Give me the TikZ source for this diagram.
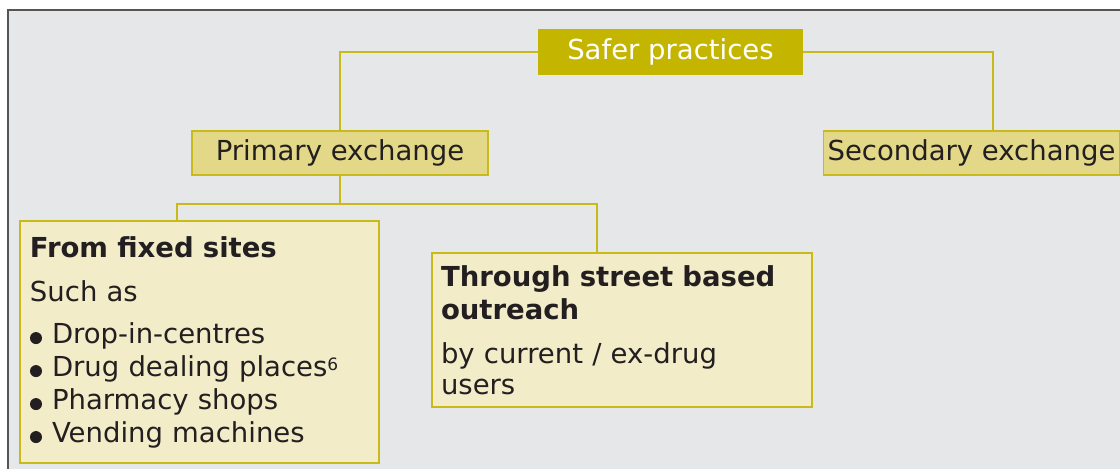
\documentclass[tikz,border=0pt]{standalone}
\usepackage{fontspec}
\setmainfont{DejaVu Sans}
\usepackage{tikz}

\definecolor{panel}{RGB}{230,231,233}
\definecolor{framegray}{RGB}{85,85,85}
\definecolor{olive}{RGB}{196,181,0}
\definecolor{midfill}{RGB}{226,216,136}
\definecolor{palefill}{RGB}{242,236,200}
\definecolor{edge}{RGB}{200,186,24}
\definecolor{ink}{RGB}{35,31,32}

\newcommand{\boxfont}{\fontsize{27.5}{33}\selectfont}
\newcommand{\dotitem}{\makebox[22pt][l]{\raisebox{-1pt}{\tikz\fill[ink] (0,0) circle (6pt);}}}
\newcommand{\footmark}[1]{\raisebox{6pt}{\fontsize{17}{17}\selectfont #1}}

\begin{document}
\begin{tikzpicture}[x=1pt,y=-1pt,
    root/.style={fill=olive,text=white,minimum width=265pt,minimum height=46pt,inner sep=0pt,font=\boxfont},
    branch/.style={fill=midfill,draw=edge,line width=1.5pt,text=ink,minimum width=296pt,minimum height=44pt,inner sep=0pt,font=\boxfont},
    leaf/.style={fill=palefill,draw=edge,line width=1.5pt,text=ink,align=left,font=\boxfont},
    link/.style={draw=edge,line width=1.5pt}]

\useasboundingbox (0,0) rectangle (1120,469);
\fill[panel] (8,10) rectangle (1120,469);
\draw[framegray,line width=2pt] (8,469) -- (8,10) -- (1120,10);

\node[root] (safer) at (670.5,52) {Safer practices};
\node[branch] (primary) at (340,153) {Primary exchange};
\node[branch] (secondary) at (971.5,153) {Secondary exchange};

\node[leaf,text width=339pt,inner xsep=10pt,minimum height=242pt] (fixed) at (199.5,342)
  {\textbf{From fixed sites}\\[11pt]
   Such as\\[9pt]
   \dotitem Drop-in-centres\\
   \dotitem Drug dealing places\footmark{6}\\
   \dotitem Pharmacy shops\\
   \dotitem Vending machines};
\node[leaf,text width=362pt,inner xsep=9pt,minimum height=154pt] (street) at (622,330)
  {\textbf{Through street based}\\
   \textbf{outreach}\\[11pt]
   by current / ex-drug\\[-2pt]
   users};

\draw[link] (safer.west) -| (primary.north);
\draw[link] (safer.east) -| ([xshift=21.5pt]secondary.north);
\coordinate (fork) at (340,204);
\draw[link] (primary.south) -- (fork);
\draw[link] (fork) -| ([xshift=-22.5pt]fixed.north);
\draw[link] (fork) -| ([xshift=-25pt]street.north);
\end{tikzpicture}
\end{document}
